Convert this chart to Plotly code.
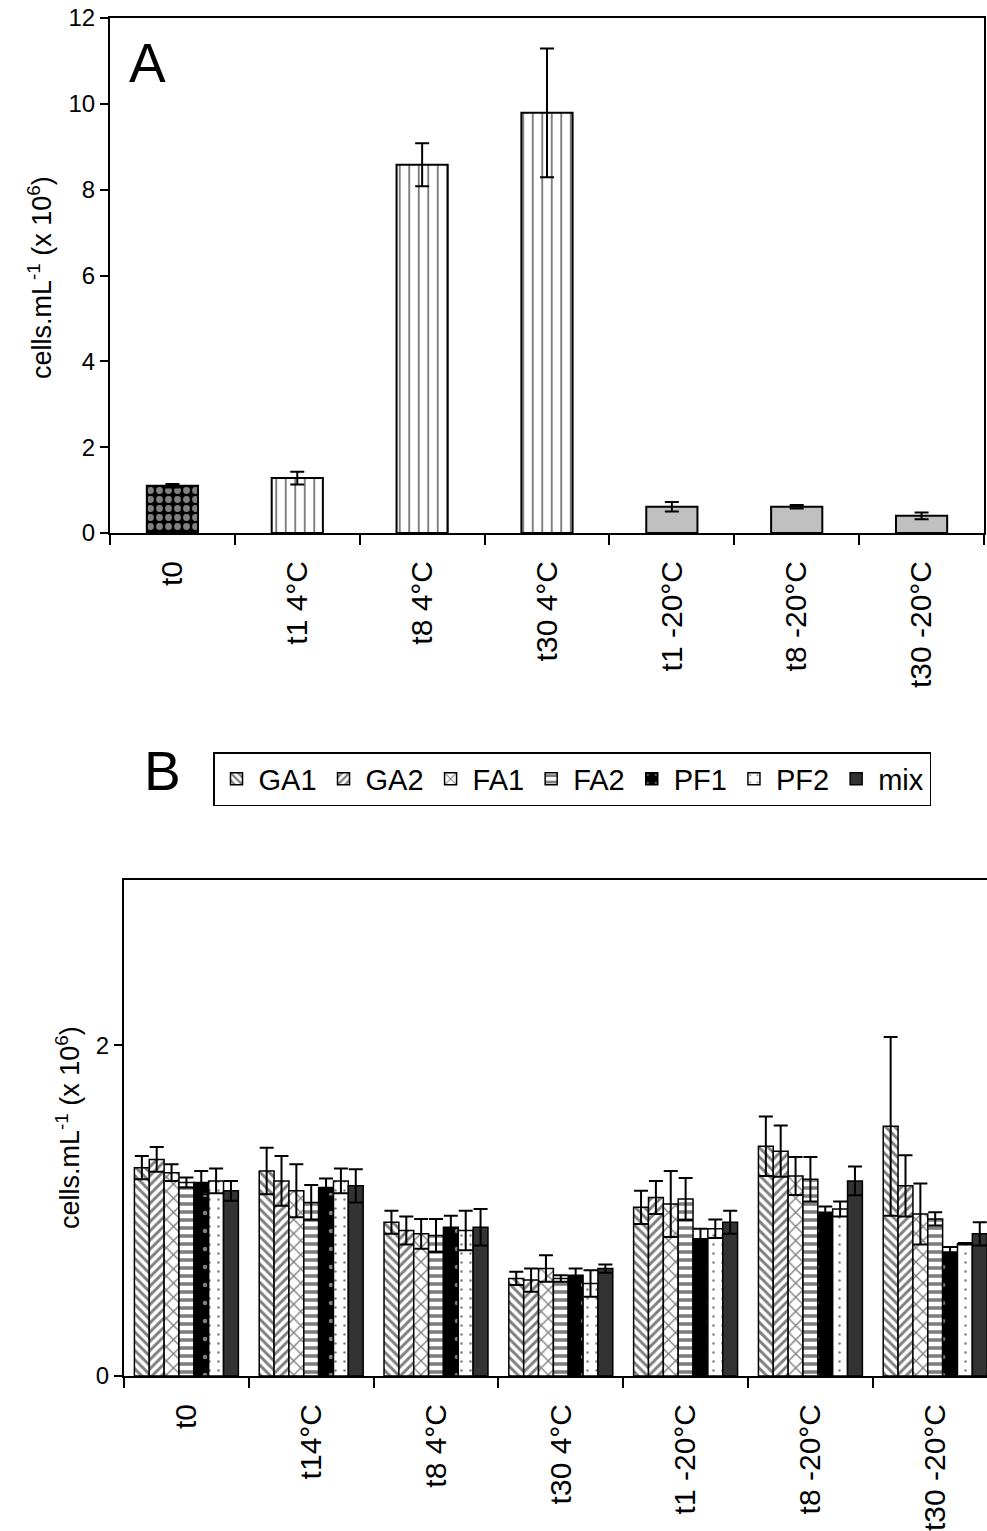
import plotly.graph_objects as go

W, H = 987, 1531
FONT = "Arial, Liberation Sans, sans-serif"

# ---------------- Panel A data ----------------
cats_a = ["t0", "t1 4°C", "t8 4°C", "t30 4°C", "t1 -20°C", "t8 -20°C", "t30 -20°C"]
vals_a = [1.10, 1.28, 8.58, 9.79, 0.61, 0.61, 0.40]
errs_a = [0.04, 0.15, 0.50, 1.50, 0.11, 0.04, 0.08]

# ---------------- Panel B data ----------------
cats_b = ["t0", "t14°C", "t8 4°C", "t30 4°C", "t1 -20°C", "t8 -20°C", "t30 -20°C"]
series_b = ["GA1", "GA2", "FA1", "FA2", "PF1", "PF2", "mix"]
ga1 = [1.26, 1.24, 0.93, 0.59, 1.02, 1.39, 1.51]
ga2 = [1.31, 1.18, 0.88, 0.58, 1.08, 1.36, 1.15]
fa1 = [1.23, 1.12, 0.86, 0.65, 1.04, 1.21, 0.98]
fa2 = [1.17, 1.05, 0.85, 0.59, 1.07, 1.19, 0.95]
pf1 = [1.17, 1.14, 0.90, 0.61, 0.83, 0.99, 0.75]
pf2 = [1.18, 1.18, 0.88, 0.56, 0.89, 1.01, 0.80]
mix = [1.12, 1.15, 0.90, 0.65, 0.93, 1.18, 0.86]
ga1_err = [0.07, 0.14, 0.07, 0.04, 0.10, 0.18, 0.54]
ga2_err = [0.075, 0.15, 0.085, 0.07, 0.10, 0.155, 0.185]
fa1_err = [0.05, 0.16, 0.09, 0.08, 0.20, 0.115, 0.185]
fa2_err = [0.03, 0.105, 0.10, 0.02, 0.127, 0.135, 0.04]
pf1_err = [0.07, 0.055, 0.07, 0.04, 0.06, 0.035, 0.03]
pf2_err = [0.075, 0.075, 0.12, 0.08, 0.056, 0.046, 0.005]
mix_err = [0.06, 0.10, 0.11, 0.025, 0.07, 0.087, 0.07]

vals_b = [ga1, ga2, fa1, fa2, pf1, pf2, mix]
errs_b = [ga1_err, ga2_err, fa1_err, fa2_err, pf1_err, pf2_err, mix_err]

def px_x(x):
    return x / W

def px_y(y):
    return 1 - y / H

fig = go.Figure()

# Panel A traces
a_styles = [
    dict(color="black", pattern=dict(shape=".", fgcolor="white", bgcolor="black", size=9, solidity=0.45)),
    dict(color="white", pattern=dict(shape="|", fgcolor="black", bgcolor="white", size=9.5, solidity=0.2)),
    dict(color="white", pattern=dict(shape="|", fgcolor="black", bgcolor="white", size=9.5, solidity=0.2)),
    dict(color="white", pattern=dict(shape="|", fgcolor="black", bgcolor="white", size=9.5, solidity=0.2)),
    dict(color="#c0c0c0"),
    dict(color="#c0c0c0"),
    dict(color="#c0c0c0"),
]
for i, c in enumerate(cats_a):
    m = dict(a_styles[i])
    m["line"] = dict(color="black", width=2)
    fig.add_trace(go.Bar(
        x=[c], y=[vals_a[i]], xaxis="x", yaxis="y", marker=m, showlegend=False,
        error_y=dict(type="data", array=[errs_a[i]], color="black", thickness=2, width=7),
        offsetgroup="a", width=0.41,
    ))

# Panel B traces
b_markers = [
    dict(color="white", pattern=dict(shape="\\", fgcolor="black", bgcolor="white", size=6.5, solidity=0.45)),
    dict(color="white", pattern=dict(shape="/", fgcolor="black", bgcolor="white", size=6.5, solidity=0.45)),
    dict(color="white", pattern=dict(shape="x", fgcolor="black", bgcolor="white", size=10, solidity=0.25)),
    dict(color="white", pattern=dict(shape="-", fgcolor="black", bgcolor="white", size=8, solidity=0.45)),
    dict(color="black", pattern=dict(shape=".", fgcolor="white", bgcolor="black", size=18, solidity=0.05)),
    dict(color="white", pattern=dict(shape=".", fgcolor="black", bgcolor="white", size=9, solidity=0.06)),
    dict(color="#333333"),
]
for i, s in enumerate(series_b):
    m = dict(b_markers[i])
    m["line"] = dict(color="black", width=1.5)
    fig.add_trace(go.Bar(
        x=cats_b, y=vals_b[i], name=s, xaxis="x2", yaxis="y2", marker=m,
        error_y=dict(type="data", array=errs_b[i], color="black", thickness=2, width=7),
    ))

axis_common = dict(showline=True, linecolor="black", linewidth=2, ticks="outside",
                   tickcolor="black", tickwidth=2, showgrid=False, zeroline=False,
                   automargin=False)

fig.update_layout(
    width=W, height=H,
    margin=dict(l=0, r=0, t=0, b=0),
    paper_bgcolor="white", plot_bgcolor="white",
    font=dict(family=FONT, color="black"),
    barmode="group", bargap=0.167, bargroupgap=0,
    xaxis=dict(domain=[px_x(110), px_x(984)], anchor="y", type="category",
               categoryorder="array", categoryarray=cats_a, range=[-0.5, 6.5],
               tickson="boundaries", ticklen=10, tickangle=-90, mirror=True,
               ticklabelstandoff=14,
               tickfont=dict(size=30, family=FONT), **axis_common),
    yaxis=dict(domain=[px_y(533), px_y(18)], anchor="x", range=[0, 12], dtick=2,
               ticklen=8, mirror=True, tickfont=dict(size=24, family=FONT), **axis_common),
    xaxis2=dict(domain=[px_x(124), 1.0], anchor="y2", type="category",
                categoryorder="array", categoryarray=cats_b, range=[-0.5, 6.415],
                tickson="boundaries", ticklen=10, tickangle=-90, mirror=True,
                ticklabelstandoff=14,
                tickfont=dict(size=30, family=FONT), **axis_common),
    yaxis2=dict(domain=[px_y(1376), px_y(880)], anchor="x2", range=[0, 3], tickvals=[0, 2],
                ticklen=8, mirror=False, tickfont=dict(size=24, family=FONT), **axis_common),
    legend=dict(orientation="h", x=px_x(213), y=px_y(752), xanchor="left", yanchor="top",
                bordercolor="black", borderwidth=1.5, font=dict(size=29, family=FONT),
                bgcolor="white", tracegroupgap=0, itemwidth=34),
    annotations=[
        dict(text="A", x=px_x(147), y=px_y(63), xref="paper", yref="paper", showarrow=False,
             font=dict(size=55, family=FONT), xanchor="center", yanchor="middle"),
        dict(text="B", x=px_x(162), y=px_y(771), xref="paper", yref="paper", showarrow=False,
             font=dict(size=55, family=FONT), xanchor="center", yanchor="middle"),
        dict(text="cells.mL<sup>-1</sup> (x 10<sup>6</sup>)", x=px_x(40), y=px_y(278),
             xref="paper", yref="paper", showarrow=False, textangle=-90,
             font=dict(size=27, family=FONT), xanchor="center", yanchor="middle"),
        dict(text="cells.mL<sup>-1</sup> (x 10<sup>6</sup>)", x=px_x(68), y=px_y(1128),
             xref="paper", yref="paper", showarrow=False, textangle=-90,
             font=dict(size=27, family=FONT), xanchor="center", yanchor="middle"),
    ],
)

fig.write_html(
    "out.html",
    config={"displayModeBar": False},
    post_script="document.body.style.margin='0';document.body.style.padding='0';document.body.style.overflow='hidden';",
)
